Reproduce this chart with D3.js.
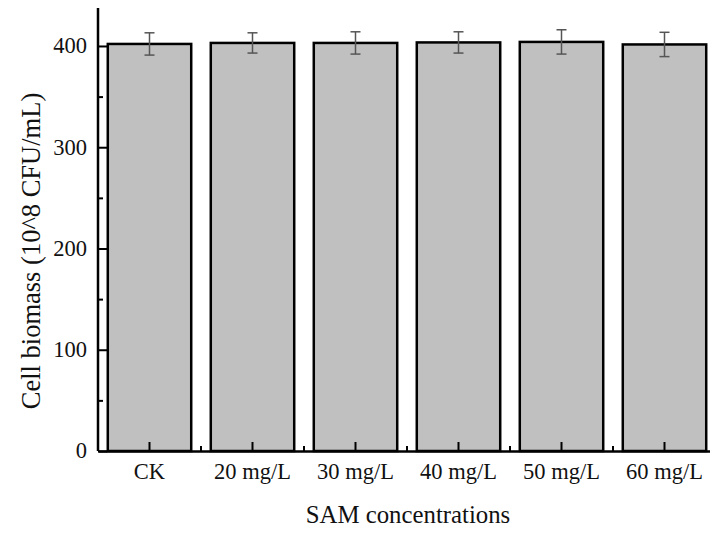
<!DOCTYPE html>
<html>

<head>
    <meta charset="utf-8">
    <script src="https://d3js.org/d3.v7.min.js"></script>
    <style>
        body {
            margin: 0;
            background: #fff;
        }

        text {
            font-family: "Liberation Serif", "Times New Roman", serif;
            fill: #111;
        }
    </style>
</head>

<body>
    <div id="chart"></div>

    <script>
        // data
        var groups = ["CK", "20 mg/L", "30 mg/L", "40 mg/L", "50 mg/L", "60 mg/L"];
        var biomass = [402, 403, 403, 403.5, 404, 401.5];
        var errors = [11, 10, 11, 10.5, 12, 12];
        var yTicks = [0, 100, 200, 300, 400];
        var yMinorTicks = [50, 150, 250, 350];

        var W = 710, H = 533;
        var margin = { top: 8, left: 98, bottom: 82 };
        var height = H - margin.top - margin.bottom;
        var bandW = 103;

        var svg = d3.select("#chart")
            .append("svg")
            .attr("width", W)
            .attr("height", H);

        var g = svg.append("g")
            .attr("transform", "translate(" + margin.left + "," + margin.top + ")");

        var x = d3.scaleBand()
            .domain(groups)
            .range([0, bandW * groups.length])
            .paddingInner(0.19)
            .paddingOuter(0.095);

        var y = d3.scaleLinear()
            .domain([0, 437.5])
            .range([height, 0]);

        // bars
        g.selectAll("rect.bar")
            .data(groups)
            .enter()
            .append("rect")
            .attr("class", "bar")
            .attr("x", function (d) { return x(d); })
            .attr("y", function (d, i) { return y(biomass[i]); })
            .attr("width", x.bandwidth())
            .attr("height", function (d, i) { return y(0) - y(biomass[i]); })
            .style("fill", "#c0c0c0")
            .style("stroke", "#000")
            .style("stroke-width", 2.5);

        // error bars
        var eb = g.selectAll("g.err")
            .data(groups)
            .enter()
            .append("g")
            .attr("class", "err")
            .style("stroke", "#555")
            .style("stroke-width", 1.5);

        eb.append("line")
            .attr("x1", function (d) { return x(d) + x.bandwidth() / 2; })
            .attr("x2", function (d) { return x(d) + x.bandwidth() / 2; })
            .attr("y1", function (d, i) { return y(biomass[i] + errors[i]); })
            .attr("y2", function (d, i) { return y(biomass[i] - errors[i]); });

        [1, -1].forEach(function (s) {
            eb.append("line")
                .attr("x1", function (d) { return x(d) + x.bandwidth() / 2 - 5; })
                .attr("x2", function (d) { return x(d) + x.bandwidth() / 2 + 5; })
                .attr("y1", function (d, i) { return y(biomass[i] + s * errors[i]); })
                .attr("y2", function (d, i) { return y(biomass[i] + s * errors[i]); });
        });

        // y axis, ticks pointing inward
        var yAxis = g.append("g")
            .call(d3.axisRight(y).tickValues(yTicks).tickSize(9).tickFormat(""));
        g.append("g")
            .call(d3.axisRight(y).tickValues(yMinorTicks).tickSize(5).tickFormat(""))
            .select(".domain").remove();
        g.selectAll(".tick line").style("stroke-width", 2);
        yAxis.select(".domain").style("stroke-width", 2.5).attr("d", "M0," + height + "V0");

        g.selectAll("text.ylab")
            .data(yTicks)
            .enter()
            .append("text")
            .attr("class", "ylab")
            .attr("x", -11)
            .attr("y", function (d) { return y(d); })
            .attr("dy", "0.33em")
            .attr("text-anchor", "end")
            .style("font-size", "22.5px")
            .text(function (d) { return d; });

        // x axis, ticks pointing inward
        var xAxis = g.append("g")
            .attr("transform", "translate(0," + height + ")")
            .call(d3.axisTop(x).tickSize(9).tickSizeOuter(0).tickFormat(""));
        xAxis.select(".domain").style("stroke-width", 2.5);
        xAxis.selectAll(".tick line").style("stroke-width", 2);

        // minor ticks between groups
        xAxis.selectAll("line.minor")
            .data(groups.slice(1))
            .enter()
            .append("line")
            .attr("class", "minor")
            .attr("x1", function (d) { return x(d) - x.step() * x.paddingInner() / 2; })
            .attr("x2", function (d) { return x(d) - x.step() * x.paddingInner() / 2; })
            .attr("y1", 0)
            .attr("y2", -5)
            .style("stroke", "#000")
            .style("stroke-width", 2);

        xAxis.selectAll("text.xlab")
            .data(groups)
            .enter()
            .append("text")
            .attr("class", "xlab")
            .attr("x", function (d) { return x(d) + x.bandwidth() / 2; })
            .attr("y", 28)
            .attr("text-anchor", "middle")
            .style("font-size", "22.5px")
            .text(function (d) { return d; });

        // axis titles
        svg.append("text")
            .attr("x", 408)
            .attr("y", 523)
            .attr("text-anchor", "middle")
            .style("font-size", "24.8px")
            .text("SAM concentrations");

        svg.append("text")
            .attr("transform", "translate(40,251) rotate(-90)")
            .attr("text-anchor", "middle")
            .style("font-size", "26.5px")
            .text("Cell biomass (10^8 CFU/mL)");
    </script>
</body>

</html>
